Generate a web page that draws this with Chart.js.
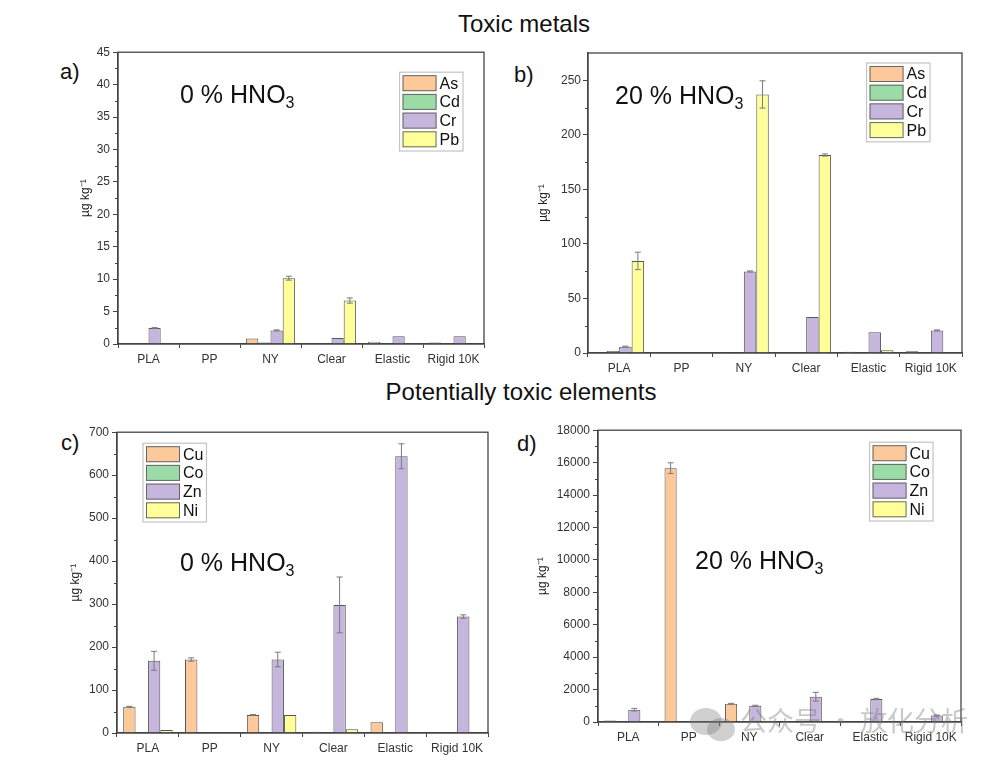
<!DOCTYPE html>
<html><head><meta charset="utf-8">
<script src="https://cdn.jsdelivr.net/npm/chart.js@4/dist/chart.umd.min.js"></script>
<style>
body{margin:0;background:#fff;width:993px;height:763px;position:relative;overflow:hidden;font-family:"Liberation Sans",Arial,sans-serif;}
.box{position:absolute;}
.t{position:absolute;color:#111;white-space:nowrap;line-height:1;}
.t sub{font-size:16px;vertical-align:-5px;line-height:0;}
.wm{position:absolute;left:740px;top:706px;font-family:"Noto Sans CJK SC";font-size:27px;color:rgba(120,120,120,0.4);white-space:nowrap;line-height:1;}
.bub{position:absolute;background:rgba(120,120,120,0.35);border-radius:50%;}
</style></head><body>
<div class="t" style="left:524px;top:12px;font-size:24px;transform:translateX(-50%)">Toxic metals</div>
<div class="t" style="left:521px;top:380px;font-size:24px;transform:translateX(-50%)">Potentially toxic elements</div>
<div class="t" style="left:60px;top:61px;font-size:22px">a)</div>
<div class="t" style="left:514px;top:64px;font-size:22px">b)</div>
<div class="t" style="left:61px;top:432px;font-size:22px">c)</div>
<div class="t" style="left:517px;top:433px;font-size:22px">d)</div>

<div class="box" style="left:78px;top:42px;width:416px;height:332px"><canvas id="ca"></canvas></div>
<div class="box" style="left:536px;top:43px;width:436px;height:340px"><canvas id="cb"></canvas></div>
<div class="box" style="left:68px;top:422px;width:430px;height:341px"><canvas id="cc"></canvas></div>
<div class="box" style="left:535px;top:420px;width:436px;height:332px"><canvas id="cd"></canvas></div>

<div class="t" style="left:180px;top:82px;font-size:25px">0 % HNO<sub>3</sub></div>
<div class="t" style="left:615px;top:83px;font-size:25px">20 % HNO<sub>3</sub></div>
<div class="t" style="left:180px;top:550px;font-size:25px">0 % HNO<sub>3</sub></div>
<div class="t" style="left:695px;top:548px;font-size:25px">20 % HNO<sub>3</sub></div>

<div class="bub" style="left:690px;top:708px;width:32px;height:27px"></div>
<div class="bub" style="left:707px;top:718px;width:28px;height:23px"></div>
<div class="wm">公众号 · 放化分析</div>

<script>
// ---- data ----
const categories = ['PLA', 'PP', 'NY', 'Clear', 'Elastic', 'Rigid 10K'];
const toxicMetals = ['As', 'Cd', 'Cr', 'Pb'];
const ptElements = ['Cu', 'Co', 'Zn', 'Ni'];

// a) toxic metals, 0 % HNO3
const a_As = [null, null, 0.85, null, 0.35, 0.25];
const a_Cd = [0.05, null, 0.25, null, null, null];
const a_Cr = [2.45, null, 2.1, 0.92, 1.2, 1.2];
const a_Pb = [null, null, 10.15, 6.7, null, null];
const a_Cr_err = [0.08, null, 0.08, null, null, null];
const a_Pb_err = [null, null, 0.3, 0.4, null, null];

// b) toxic metals, 20 % HNO3
const b_As = [null, null, 0.8, 0.6, 1.2, 1.5];
const b_Cd = [1.8, null, 0.5, null, null, null];
const b_Cr = [5.8, null, 74.7, 33, 19, 20.7];
const b_Pb = [84.4, null, 237, 181.5, 2.5, null];
const b_Cr_err = [0.5, null, 0.5, null, null, 0.5];
const b_Pb_err = [8, null, 12.5, 1, null, null];

// c) potentially toxic elements, 0 % HNO3
const c_Cu = [61, 171, 42, 3, 25, 1.5];
const c_Co = [null, null, 1, null, null, null];
const c_Zn = [168, null, 171, 298, 644, 271];
const c_Ni = [7, null, 42, 9, null, null];
const c_Cu_err = [1, 4, 1, null, null, null];
const c_Zn_err = [22, null, 17, 65, 29, 4];

// d) potentially toxic elements, 20 % HNO3
const d_Cu = [100, 15660, 1120, 50, 50, 30];
const d_Co = [null, null, null, null, null, null];
const d_Zn = [760, null, 1000, 1560, 1420, 400];
const d_Ni = [null, null, 80, 30, null, null];
const d_Cu_err = [null, 330, 30, null, null, null];
const d_Zn_err = [80, null, 30, 270, 40, 30];

// y axis tick settings
const aMax = 45, aStep = 5;
const bMax = 275, bStep = 50;
const cMax = 700, cStep = 100;
const dMax = 18000, dStep = 2000;

// ---- styling ----
Chart.defaults.font.family = '"Liberation Sans", Arial, sans-serif';
const fills = ['#FDC99B', '#9ADBA6', '#C6B6DE', '#FFFF99'];

const errorBars = {
  id: 'errorBars',
  afterDatasetsDraw(chart) {
    const ctx = chart.ctx, ys = chart.scales.y;
    ctx.save();
    ctx.strokeStyle = '#7a7a7a'; ctx.lineWidth = 1;
    chart.data.datasets.forEach((ds, i) => {
      if (!ds.errors) return;
      const meta = chart.getDatasetMeta(i);
      ds.errors.forEach((e, j) => {
        const v = ds.data[j];
        if (e == null || v == null) return;
        const x = meta.data[j].x;
        const t = ys.getPixelForValue(v + e), b = ys.getPixelForValue(Math.max(0, v - e));
        ctx.beginPath();
        ctx.moveTo(x, t); ctx.lineTo(x, b);
        ctx.moveTo(x - 3, t); ctx.lineTo(x + 3, t);
        ctx.moveTo(x - 3, b); ctx.lineTo(x + 3, b);
        ctx.stroke();
      });
    });
    ctx.restore();
  }
};

const frame = {
  id: 'frame',
  afterDraw(chart) {
    const ctx = chart.ctx, ca = chart.chartArea, ys = chart.scales.y;
    ctx.save();
    ctx.strokeStyle = '#444'; ctx.lineWidth = 1.3;
    ctx.strokeRect(ca.left, ca.top, ca.right - ca.left, ca.bottom - ca.top);
    const tk = ys.ticks;
    if (tk.length > 1) {
      const step = tk[1].value - tk[0].value;
      ctx.lineWidth = 1;
      ctx.beginPath();
      for (let v = tk[0].value + step / 2; v < ys.max; v += step) {
        const y = Math.round(ys.getPixelForValue(v)) + 0.5;
        ctx.moveTo(ca.left, y); ctx.lineTo(ca.left - 3, y);
      }
      ctx.stroke();
    }
    ctx.restore();
  }
};

const boxLegend = {
  id: 'boxLegend',
  afterDraw(chart, args, opts) {
    const ctx = chart.ctx, ca = chart.chartArea;
    ctx.save();
    ctx.font = '16px "Liberation Sans", Arial, sans-serif';
    const ds = chart.data.datasets;
    const tw = Math.max(...ds.map(d => ctx.measureText(d.label).width));
    const sw = 34, sh = 16, pitch = 18.7, pad = 3;
    const w = pad + sw + 3 + tw + 3, h = ds.length * pitch + pad + 1;
    const x = opts.side === 'left' ? ca.left + opts.dx : ca.right - opts.dx - w;
    const y = ca.top + opts.dy;
    ctx.fillStyle = '#fff'; ctx.fillRect(x, y, w, h);
    ctx.strokeStyle = '#c4c4c4'; ctx.lineWidth = 1.2; ctx.strokeRect(x, y, w, h);
    ds.forEach((d, i) => {
      const yy = y + pad + i * pitch;
      ctx.fillStyle = d.backgroundColor; ctx.fillRect(x + pad, yy, sw, sh);
      ctx.strokeStyle = '#666'; ctx.lineWidth = 1; ctx.strokeRect(x + pad + 0.5, yy + 0.5, sw - 1, sh - 1);
      ctx.fillStyle = '#111'; ctx.textBaseline = 'middle';
      ctx.fillText(d.label, x + pad + sw + 3, yy + sh / 2 + 1);
    });
    ctx.restore();
  }
};

function makeChart(id, names, series, errs, cfg) {
  new Chart(document.getElementById(id), {
    type: 'bar',
    data: {
      labels: categories,
      datasets: names.map((n, i) => ({
        label: n, data: series[i], errors: errs[i],
        backgroundColor: fills[i], borderColor: '#555', borderWidth: 1,
        categoryPercentage: 0.8, barPercentage: 1
      }))
    },
    options: {
      responsive: true, maintainAspectRatio: false, animation: false,
      layout: { padding: { top: 10, right: 10, left: 0, bottom: 0 } },
      plugins: { legend: { display: false }, tooltip: { enabled: false }, boxLegend: cfg.legend },
      scales: {
        x: {
          grid: { drawOnChartArea: false, tickLength: 4, color: '#444', offset: true },
          border: { color: '#444', width: 1.3 },
          ticks: { font: { size: 12 }, color: '#333', padding: 4, maxRotation: 0, autoSkip: false },
          afterFit(s) { s.height = 30; }
        },
        y: {
          min: 0, max: cfg.max,
          ticks: { stepSize: cfg.step, font: { size: 12 }, color: '#333', padding: cfg.pad, callback: v => String(v) },
          grid: { drawOnChartArea: false, tickLength: 5, color: '#444' },
          border: { color: '#444', width: 1.3 },
          title: { display: true, text: 'µg kg⁻¹', font: { size: 12 }, color: '#222', padding: 0 },
          afterBuildTicks(s) { s.ticks = s.ticks.filter(t => Math.abs(t.value / cfg.step - Math.round(t.value / cfg.step)) < 1e-6); },
          afterFit(s) { s.width = cfg.yw; }
        }
      }
    },
    plugins: [errorBars, frame, boxLegend]
  });
}

makeChart('ca', toxicMetals, [a_As, a_Cd, a_Cr, a_Pb], [null, null, a_Cr_err, a_Pb_err],
  { max: aMax, step: aStep, yw: 40, pad: 3, legend: { side: 'right', dx: 21, dy: 20 } });
makeChart('cb', toxicMetals, [b_As, b_Cd, b_Cr, b_Pb], [null, null, b_Cr_err, b_Pb_err],
  { max: bMax, step: bStep, yw: 52, pad: 2, legend: { side: 'right', dx: 32, dy: 10 } });
makeChart('cc', ptElements, [c_Cu, c_Co, c_Zn, c_Ni], [c_Cu_err, null, c_Zn_err, null],
  { max: cMax, step: cStep, yw: 49, pad: 3, legend: { side: 'left', dx: 26, dy: 11 } });
makeChart('cd', ptElements, [d_Cu, d_Co, d_Zn, d_Ni], [d_Cu_err, null, d_Zn_err, null],
  { max: dMax, step: dStep, yw: 63, pad: 3, legend: { side: 'right', dx: 28, dy: 12 } });
</script>
</body></html>
